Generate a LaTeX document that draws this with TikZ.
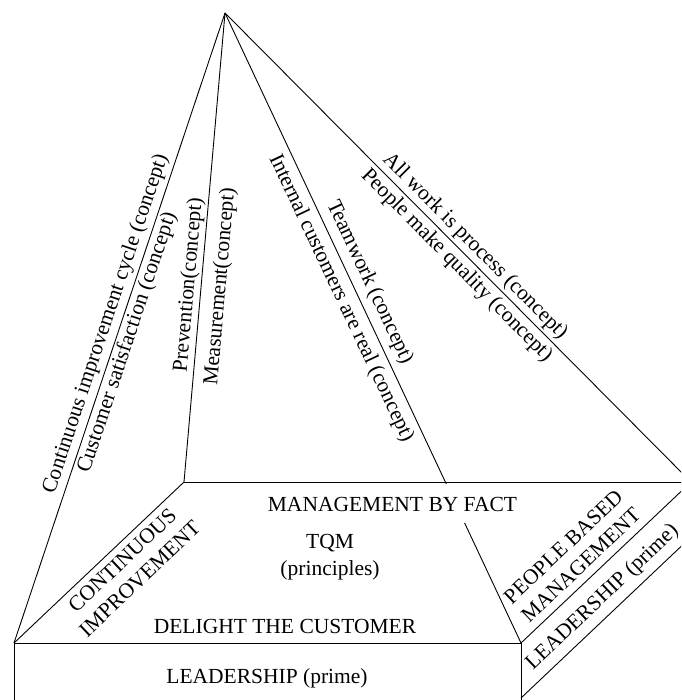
\documentclass[tikz,border=0pt]{standalone}
\usepackage{fontspec}
\setmainfont{Liberation Serif}
\usetikzlibrary{calc}
\begin{document}
\begin{tikzpicture}[x=1pt,y=-1pt,
  edge/.style={line width=0.9pt, draw=black},
  lbl/.style={inner sep=0pt, font=\fontsize{21.5}{25.5}\selectfont},
  lbltwo/.style={lbl, align=center}]
\useasboundingbox (0,0) rectangle (681,700);
\clip (0,0) rectangle (681,700);
% corner points
\coordinate (apex) at (225,13);
\coordinate (FL) at (14,643);
\coordinate (BL) at (184,482);
\coordinate (BR) at (691,482);
\coordinate (FR) at (521,643);
\coordinate (FLb) at (14,706);
\coordinate (FRb) at (521,706);
\coordinate (RLa) at (521,698);
\coordinate (RLb) at (691,537);
\coordinate (M1) at ($(apex)!0.7476!(FR)$);
\coordinate (M2) at ($(apex)!0.8095!(FR)$);
% pyramid edges
\draw[edge] (apex) -- (FL);
\draw[edge] (apex) -- (BL);
\draw[edge] (apex) -- (M1);
\draw[edge] (M2) -- (FR);
\draw[edge] (apex) -- (BR);
% base
\draw[edge] (FL) -- (BL);
\draw[edge] (BL) -- (BR);
\draw[edge] (FL) -- (FR);
\draw[edge] (FR) -- (BR);
% box
\draw[edge] (FL) -- (FLb);
\draw[edge] (FR) -- (FRb);
\draw[edge] (RLa) -- (RLb);
% concept labels
\node[lbl, rotate=71.5] (cic) at (106,324) {Continuous improvement cycle (concept)};
\node[lbl, rotate=71.5] (cs) at (127.5,342.5) {Customer satisfaction (concept)};
\node[lbl, rotate=85] (prev) at (189,285) {Prevention(concept)};
\node[lbl, rotate=85] (meas) at (220.5,286.5) {Measurement(concept)};
\node[lbl, rotate=-64.8] (icr) at (341,298.5) {Internal customers are real (concept)};
\node[lbl, rotate=-64.8] (team) at (369.5,282.5) {Teamwork (concept)};
\node[lbl, rotate=-45.2] (awp) at (475,246.5) {All work is process (concept)};
\node[lbl, rotate=-45.2] (pmq) at (456.5,265.5) {People make quality (concept)};
% base labels
\node[lbl] (mbf) at (392.5,504.5) {MANAGEMENT BY FACT};
\node[lbltwo] (tqm) at (330,557) {TQM\\[1pt](principles)};
\node[lbl] (dtc) at (285,626.7) {DELIGHT THE CUSTOMER};
\node[lbl] (lead) at (267,678.5) {LEADERSHIP (prime)};
\node[lbltwo, rotate=43.5] (ci) at (131,569.5) {CONTINUOUS\\IMPROVEMENT};
\node[lbltwo, rotate=43.5] (pbm) at (572,556) {PEOPLE BASED\\MANAGEMENT};
\node[lbl, rotate=43.5] (leadr) at (602.5,597.5) {LEADERSHIP (prime)};
\end{tikzpicture}
\end{document}
